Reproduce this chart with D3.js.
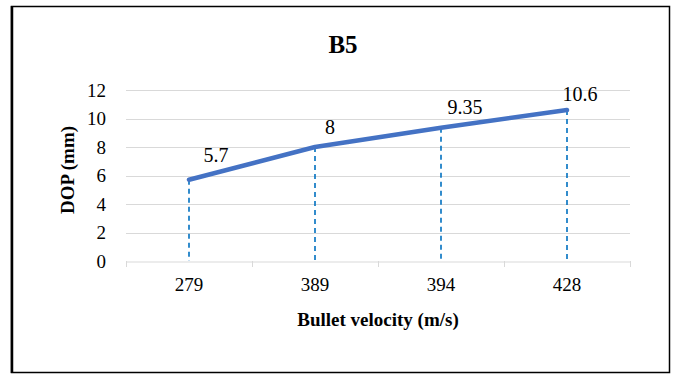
<!DOCTYPE html>
<html><head><meta charset="utf-8">
<script src="https://cdn.jsdelivr.net/npm/d3@7"></script>
<style>body{margin:0;background:#fff}svg{display:block}</style>
</head><body><svg id="c" width="675" height="374" font-family="'Liberation Serif', 'Times New Roman', serif"></svg>
<script>
const categories = ["279","389","394","428"];
const values = [5.7, 8, 9.35, 10.6];
const labels = ["5.7","8","9.35","10.6"];
const yTicks = [0,2,4,6,8,10,12];
const labelOffsets = [[27,-25],[15,-20],[24,-21],[13,-16]];
const FONT = "'Liberation Serif', 'Times New Roman', serif";

const svg = d3.select("#c");
// outer border
svg.append("rect").attr("x",11.5).attr("y",6.5).attr("width",658).attr("height",366)
  .attr("fill","none").attr("stroke","#000").attr("stroke-width",1.5);
svg.append("line").attr("x1",12).attr("x2",12).attr("y1",6).attr("y2",373).attr("stroke","#000").attr("stroke-width",2.5);

const x = d3.scaleBand().domain(categories).range([126,630]);
const y = d3.scaleLinear().domain([0,12]).range([261,90]);

// gridlines
svg.append("g").selectAll("line").data(yTicks.filter(d=>d>0)).join("line")
  .attr("x1",126).attr("x2",630).attr("y1",d=>Math.round(y(d))+0.5).attr("y2",d=>Math.round(y(d))+0.5)
  .attr("stroke","#d9d9d9").attr("stroke-width",1);

// y axis labels
const ya = svg.append("g").attr("transform","translate(126,0)")
  .call(d3.axisLeft(y).tickValues(yTicks).tickSize(0).tickPadding(20));
ya.attr("font-family",FONT).attr("font-size",19);
ya.select(".domain").remove();
ya.selectAll("text").attr("fill","#000");

// x axis
const xa = svg.append("g").attr("transform","translate(0,261.5)")
  .call(d3.axisBottom(x).tickSize(0).tickPadding(16));
xa.attr("font-family",FONT).attr("font-size",19);
xa.select(".domain").attr("stroke","#d9d9d9");
xa.selectAll("text").attr("fill","#000");
svg.append("g").selectAll("line").data(d3.range(categories.length+1)).join("line")
  .attr("x1",i=>126+i*x.step()+0.5).attr("x2",i=>126+i*x.step()+0.5)
  .attr("y1",261).attr("y2",267).attr("stroke","#d9d9d9");

// drop lines
const cx = c => x(c)+x.bandwidth()/2;
svg.append("g").selectAll("line").data(values).join("line")
  .attr("x1",(d,i)=>cx(categories[i])).attr("x2",(d,i)=>cx(categories[i]))
  .attr("y1",d=>y(d)).attr("y2",y(0))
  .attr("stroke","#0070C0").attr("stroke-width",1.6).attr("stroke-dasharray","5,4");

// line
svg.append("path").datum(values)
  .attr("d",d3.line().x((d,i)=>cx(categories[i])).y(d=>y(d)))
  .attr("fill","none").attr("stroke","#4472C4").attr("stroke-width",4.5).attr("stroke-linecap","round").attr("stroke-linejoin","round");

// data labels
svg.append("g").selectAll("text").data(values).join("text")
  .attr("x",(d,i)=>cx(categories[i])+labelOffsets[i][0])
  .attr("y",(d,i)=>y(d)+labelOffsets[i][1])
  .attr("text-anchor","middle").attr("dominant-baseline","central")
  .attr("font-family",FONT).attr("font-size",20).attr("fill","#000")
  .text((d,i)=>labels[i]);

// titles
svg.append("text").attr("x",343).attr("y",53).attr("text-anchor","middle")
  .attr("font-family",FONT).attr("font-size",25).attr("font-weight","bold").text("B5");
svg.append("text").attr("x",378).attr("y",326).attr("text-anchor","middle")
  .attr("font-family",FONT).attr("font-size",19).attr("font-weight","bold").text("Bullet velocity (m/s)");
svg.append("text").attr("transform","translate(74,170) rotate(-90)").attr("text-anchor","middle")
  .attr("font-family",FONT).attr("font-size",19).attr("font-weight","bold").text("DOP (mm)");
</script></body></html>
